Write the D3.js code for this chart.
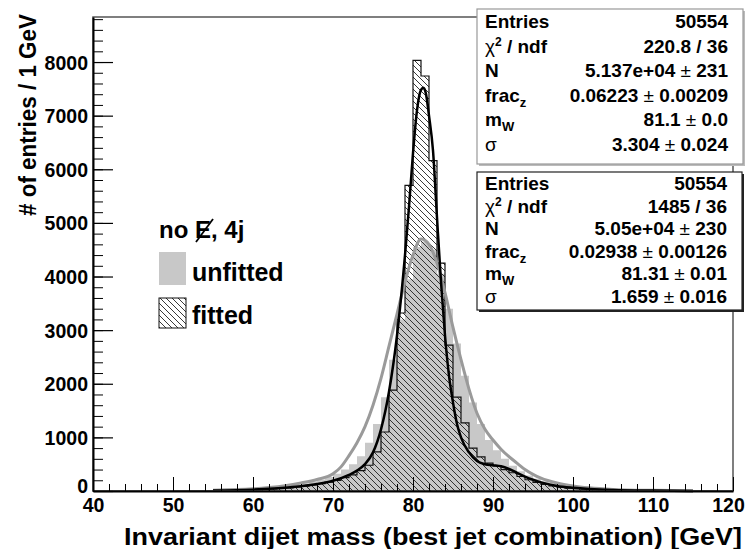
<!DOCTYPE html>
<html>
<head>
<meta charset="utf-8">
<script src="https://cdn.jsdelivr.net/npm/d3@7"></script>
<style>
  body { margin: 0; background: #fff; }
  text { font-family: "Liberation Sans", Arial, Helvetica, sans-serif; font-weight: bold; fill: #000; }
</style>
</head>
<body>
<svg id="chart" width="750" height="549"></svg>
<script>
// 1 GeV bins, first bin starts at 40 GeV
const binStart = 40;
const binWidth = 1;

// counts per bin, 40..119 GeV
const unfitted = [
  0, 0, 0, 0, 0, 0, 0, 0, 0, 0,
  2, 3, 4, 5, 6, 8, 10, 14, 18, 25,
  35, 45, 55, 70, 90, 110, 140, 175, 215, 260,
  320, 400, 500, 650, 900, 1250, 1750, 2450, 3200, 3950,
  4550, 4650, 4500, 4050, 3400, 2750, 2150, 1650, 1250, 950,
  760, 600, 470, 370, 290, 230, 180, 140, 110, 85,
  65, 52, 42, 34, 28, 22, 18, 15, 12, 10,
  8, 6, 5, 4, 3, 3, 2, 2, 1, 1
];
const fitted = [
  0, 0, 0, 0, 0, 0, 0, 0, 0, 0,
  1, 1, 2, 3, 4, 5, 7, 9, 12, 16,
  22, 30, 38, 48, 60, 75, 92, 112, 135, 165,
  200, 250, 300, 380, 480, 730, 1100, 1880, 3320, 5700,
  8030, 7740, 6160, 4250, 2720, 1750, 1270, 800, 635, 520,
  470, 400, 340, 270, 210, 160, 125, 95, 72, 55,
  42, 33, 26, 20, 16, 12, 10, 8, 6, 5,
  4, 3, 3, 2, 2, 1, 1, 1, 0, 0
];

// fit curves
const unfittedFitMass = [55, 60, 62, 64, 66, 68, 70, 71, 72, 73, 74, 75, 76, 77, 78, 79, 80, 81, 82, 83, 84, 85, 86, 87, 88, 89, 90, 91, 92, 93, 94, 95, 96, 98, 100, 102, 105, 110, 115];
const unfittedFitValue = [15, 40, 65, 100, 150, 215, 320, 450, 660, 900, 1200, 1600, 2100, 2700, 3300, 3900, 4400, 4700, 4600, 4250, 3700, 3050, 2450, 1900, 1450, 1150, 950, 780, 640, 520, 400, 310, 240, 150, 95, 60, 30, 12, 4];
const fittedFitMass = [55, 60, 62, 64, 66, 68, 70, 72, 73, 74, 75, 76, 77, 78, 79, 79.5, 80, 80.5, 81, 81.3, 81.6, 82, 82.5, 83, 83.5, 84, 84.5, 85, 85.5, 86, 87, 88, 89, 90, 91, 92, 93, 94, 95, 96, 98, 100, 105, 110, 115];
const fittedFitValue = [8, 25, 40, 60, 90, 130, 190, 300, 380, 500, 720, 1150, 1850, 2900, 4400, 5300, 6300, 7100, 7480, 7520, 7420, 7000, 6350, 5100, 3900, 2900, 2150, 1650, 1250, 1000, 720, 560, 500, 480, 460, 410, 340, 270, 210, 160, 95, 60, 20, 8, 2];

const xTicks = [40, 50, 60, 70, 80, 90, 100, 110, 120];
const yTicks = [0, 1000, 2000, 3000, 4000, 5000, 6000, 7000, 8000];

const statNames = ["Entries", "chi2", "N", "fracz", "mW", "sigma"];
const statsUnfitted = ["50554", "220.8 / 36", "5.137e+04 ± 231", "0.06223 ± 0.00209", "81.1 ± 0.0", "3.304 ± 0.024"];
const statsFitted = ["50554", "1485 / 36", "5.05e+04 ± 230", "0.02938 ± 0.00126", "81.31 ± 0.01", "1.659 ± 0.016"];

const legendLabels = ["unfitted", "fitted"];

const svg = d3.select('#chart');
const margin = { left: 93, right: 733, top: 17, bottom: 491 };

const x = d3.scaleLinear().domain([40, 120]).range([margin.left, margin.right]);
const y = d3.scaleLinear().domain([0, 8840]).range([margin.bottom, margin.top]);

// hatch pattern for the fitted histogram
const defs = svg.append('defs');
const pat = defs.append('pattern')
  .attr('id', 'hatch')
  .attr('patternUnits', 'userSpaceOnUse')
  .attr('width', 6).attr('height', 6);
pat.append('path')
  .attr('d', 'M-1,-1 L7,7 M-1,5 L1,7 M5,-1 L7,1')
  .attr('stroke', '#222').attr('stroke-width', 0.9);

const stepPoints = (counts) => {
  const pts = counts.map((c, i) => [binStart + i * binWidth, c]);
  pts.push([binStart + counts.length * binWidth, counts[counts.length - 1]]);
  return pts;
};

const area = d3.area()
  .x(d => x(d[0]))
  .y0(y(0))
  .y1(d => y(d[1]))
  .curve(d3.curveStepAfter);
const stepLine = d3.line()
  .x(d => x(d[0]))
  .y(d => y(d[1]))
  .curve(d3.curveStepAfter);

const plot = svg.append('g');

plot.append('path')
  .attr('d', area(stepPoints(unfitted)))
  .attr('fill', '#c8c8c8');

plot.append('path')
  .attr('d', area(stepPoints(fitted)))
  .attr('fill', 'url(#hatch)');
plot.append('path')
  .attr('d', stepLine(stepPoints(fitted)))
  .attr('fill', 'none')
  .attr('stroke', '#111')
  .attr('stroke-width', 1.2);

const curve = d3.line()
  .x(d => x(d[0]))
  .y(d => y(d[1]))
  .curve(d3.curveMonotoneX);

plot.append('path')
  .attr('d', curve(d3.zip(unfittedFitMass, unfittedFitValue)))
  .attr('fill', 'none')
  .attr('stroke', '#9a9a9a')
  .attr('stroke-width', 3);
plot.append('path')
  .attr('d', curve(d3.zip(fittedFitMass, fittedFitValue)))
  .attr('fill', 'none')
  .attr('stroke', '#000')
  .attr('stroke-width', 2.5);

// frame
svg.append('rect')
  .attr('x', margin.left).attr('y', margin.top)
  .attr('width', margin.right - margin.left)
  .attr('height', margin.bottom - margin.top)
  .attr('fill', 'none').attr('stroke', '#555').attr('stroke-width', 1.5);

// axes, ticks pointing inward like ROOT
const yMinor = d3.range(0, 8840, 200);
svg.append('g')
  .attr('transform', `translate(${margin.left},0)`)
  .call(d3.axisLeft(y).tickValues(yMinor).tickSizeInner(-10).tickSizeOuter(0).tickFormat(''))
  .call(g => g.select('.domain').remove());
const yAxis = svg.append('g')
  .attr('transform', `translate(${margin.left},0)`)
  .call(d3.axisLeft(y).tickValues(yTicks).tickSizeInner(-20).tickSizeOuter(0).tickPadding(5).tickFormat(d3.format('d')));
yAxis.select('.domain').attr('stroke-width', 2);
yAxis.selectAll('line').attr('stroke-width', 1.2);
yAxis.selectAll('text').attr('font-size', 19.5).attr('dy', '0.36em');
yAxis.selectAll('.tick').filter(d => d === 0).select('text').attr('dy', '0.1em');

const xMinor = d3.range(40, 121, 2);
svg.append('g')
  .attr('transform', `translate(0,${margin.bottom})`)
  .call(d3.axisBottom(x).tickValues(xMinor).tickSizeInner(-7).tickSizeOuter(0).tickFormat(''))
  .call(g => g.select('.domain').remove());
const xAxis = svg.append('g')
  .attr('transform', `translate(0,${margin.bottom})`)
  .call(d3.axisBottom(x).tickValues(xTicks).tickSizeInner(-14).tickSizeOuter(0).tickPadding(7).tickFormat(d3.format('d')));
xAxis.select('.domain').attr('stroke-width', 2);
xAxis.selectAll('text').attr('font-size', 19.5).attr('dy', '0.72em');
xAxis.selectAll('.tick').filter(d => d === 120).select('text').attr('dx', -5);
svg.selectAll('.tick line').attr('stroke', '#000');

// axis titles
svg.append('text')
  .attr('x', 742).attr('y', 545)
  .attr('text-anchor', 'end')
  .attr('font-size', 23)
  .attr('textLength', 618).attr('lengthAdjust', 'spacingAndGlyphs')
  .text('Invariant dijet mass (best jet combination) [GeV]');
svg.append('text')
  .attr('transform', 'translate(36,14) rotate(-90)')
  .attr('text-anchor', 'end')
  .attr('font-size', 23)
  .attr('textLength', 202).attr('lengthAdjust', 'spacingAndGlyphs')
  .text('# of entries / 1 GeV');

// stats boxes
function labelSpans(t, name) {
  if (name === 'chi2') {
    t.append('tspan').attr('font-weight', 'normal').text('χ');
    t.append('tspan').attr('font-size', 12).attr('dy', -7).text('2');
    t.append('tspan').attr('dy', 7).text(' / ndf');
  } else if (name === 'fracz') {
    t.append('tspan').text('frac');
    t.append('tspan').attr('font-size', 13).attr('dy', 5).text('z');
  } else if (name === 'mW') {
    t.append('tspan').text('m');
    t.append('tspan').attr('font-size', 13).attr('dy', 5).text('W');
  } else if (name === 'sigma') {
    t.append('tspan').attr('font-weight', 'normal').text('σ');
  } else {
    t.text(name);
  }
}
function valueSpans(t, v) {
  const parts = v.split('±');
  t.append('tspan').text(parts[0]);
  if (parts.length > 1) {
    t.append('tspan').attr('font-weight', 'normal').text('±');
    t.append('tspan').text(parts[1]);
  }
}
function statsBox(x0, y0, w, h, rowH, values, border, shadow) {
  const g = svg.append('g');
  if (shadow) {
    g.append('rect').attr('x', x0 + 2).attr('y', y0 + 2).attr('width', w).attr('height', h).attr('fill', shadow);
  }
  g.append('rect').attr('x', x0).attr('y', y0).attr('width', w).attr('height', h)
    .attr('fill', '#fff').attr('stroke', border).attr('stroke-width', 1.2);
  values.forEach((v, i) => {
    const yy = y0 + rowH * (i + 0.5) + 7;
    labelSpans(g.append('text').attr('x', x0 + 8).attr('y', yy).attr('font-size', 19), statNames[i]);
    valueSpans(g.append('text').attr('x', x0 + w - 15).attr('y', yy).attr('font-size', 19).attr('text-anchor', 'end'), v);
  });
}
statsBox(477, 9, 266, 155, 24.5, statsUnfitted, '#999', '#bbb');
statsBox(477, 172, 265, 138, 22.5, statsFitted, '#222', '#222');

// legend
const leg = svg.append('g');
const head = leg.append('text').attr('x', 159).attr('y', 238).attr('font-size', 24);
head.append('tspan').text('no ');
head.append('tspan').text('E');
head.append('tspan').text(', 4j');
const node = head.node();
const e0 = node.getStartPositionOfChar(3), e1 = node.getEndPositionOfChar(3);
leg.append('line')
  .attr('x1', e0.x + 1).attr('y1', 242)
  .attr('x2', e1.x + 2).attr('y2', 219)
  .attr('stroke', '#000').attr('stroke-width', 1.8);

leg.append('rect').attr('x', 159).attr('y', 252).attr('width', 27).attr('height', 33).attr('fill', '#c8c8c8');
leg.append('rect').attr('x', 159).attr('y', 298).attr('width', 27).attr('height', 30)
  .attr('fill', 'url(#hatch)').attr('stroke', '#111').attr('stroke-width', 1);
leg.selectAll('text.lab')
  .data(legendLabels)
  .enter().append('text')
  .attr('class', 'lab')
  .attr('x', 192)
  .attr('y', (d, i) => 281 + i * 43)
  .attr('font-size', 25)
  .text(d => d);
</script>
</body>
</html>
